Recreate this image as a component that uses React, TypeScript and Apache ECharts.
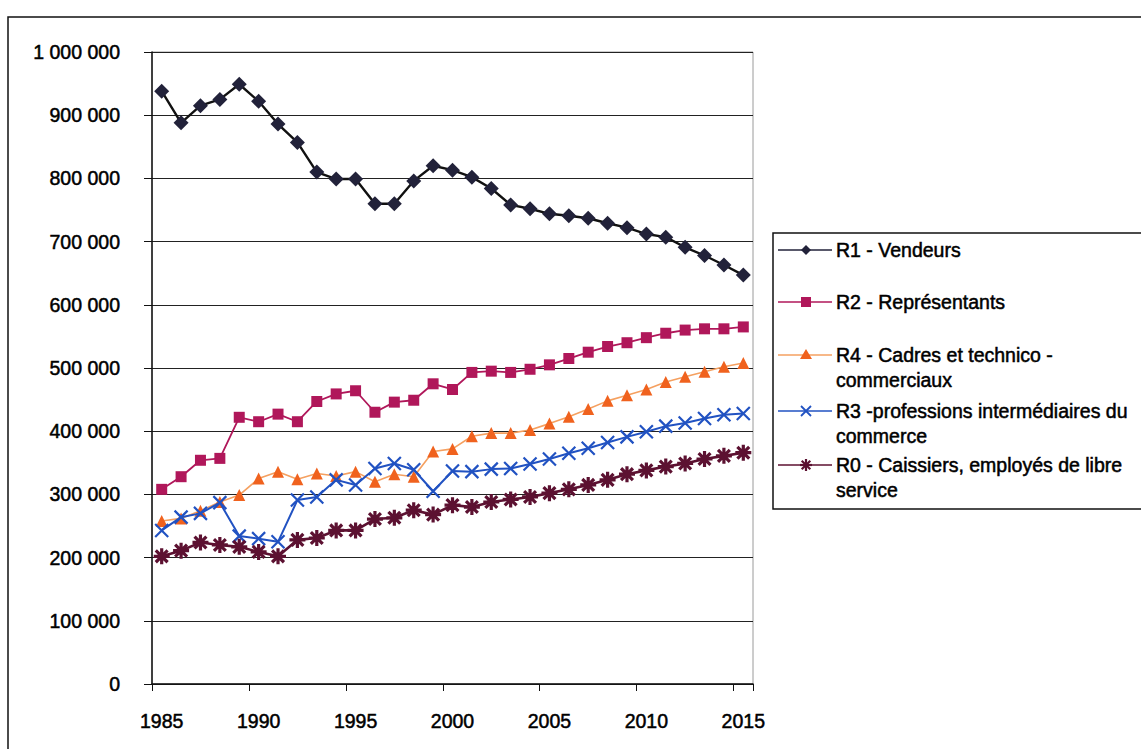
import React, { useEffect, useRef } from "react";
import * as echarts from "echarts";

const years = [
  "1985", "1986", "1987", "1988", "1989", "1990", "1991", "1992", "1993", "1994",
  "1995", "1996", "1997", "1998", "1999", "2000", "2001", "2002", "2003", "2004",
  "2005", "2006", "2007", "2008", "2009", "2010", "2011", "2012", "2013", "2014", "2015",
];

const r1Vendeurs = [
  938000, 888000, 915000, 925000, 949000, 922000, 886000, 857000, 810000, 799000,
  799000, 760000, 760000, 796000, 820000, 813000, 802000, 784000, 758000, 752000,
  744000, 741000, 737000, 729000, 722000, 712000, 707000, 691000, 678000, 663000, 647000,
];

const r2Representants = [
  308000, 328000, 354000, 357000, 422000, 415000, 427000, 415000, 447000, 459000,
  464000, 430000, 446000, 449000, 475000, 466000, 493000, 495000, 493000, 498000,
  505000, 515000, 525000, 534000, 540000, 548000, 555000, 560000, 562000, 562000, 565000,
];

const r4Cadres = [
  258000, 262000, 274000, 288000, 299000, 325000, 336000, 324000, 333000, 329000,
  336000, 320000, 332000, 328000, 368000, 372000, 392000, 397000, 397000, 402000,
  412000, 423000, 435000, 448000, 457000, 466000, 478000, 486000, 494000, 502000, 508000,
];

const r3Intermediaires = [
  243000, 264000, 270000, 287000, 234000, 230000, 225000, 291000, 296000, 323000,
  315000, 341000, 349000, 339000, 305000, 337000, 336000, 340000, 341000, 348000,
  356000, 365000, 373000, 382000, 391000, 399000, 408000, 413000, 420000, 426000, 428000,
];

const r0Caissiers = [
  202000, 211000, 224000, 220000, 217000, 209000, 202000, 228000, 231000, 243000,
  243000, 261000, 263000, 275000, 268000, 283000, 280000, 288000, 292000, 296000,
  302000, 308000, 315000, 323000, 332000, 338000, 344000, 349000, 356000, 361000, 366000,
];

const seriesNames = [
  "R1 - Vendeurs",
  "R2 - Représentants",
  "R4 - Cadres et technico -\ncommerciaux",
  "R3 -professions intermédiaires du\ncommerce",
  "R0 - Caissiers, employés de libre\nservice",
];

const FONT = "Liberation Sans";
const C_R1 = "#22223a";
const C_R2 = "#b0175a";
const C_R4 = "#f0621e";
const C_R4_LINE = "#f5a060";
const C_R3 = "#2152c2";
const C_R0 = "#5c1131";

const X_PATH = "path://M0,0L10,10M10,0L0,10";
const AST_PATH = "path://M5,0L5,10M0,5L10,5M1.3,1.3L8.7,8.7M8.7,1.3L1.3,8.7";

function fmt(v: number) {
  return String(v).replace(/\B(?=(\d{3})+(?!\d))/g, " ");
}

function legendGraphics() {
  const rows = [250, 302, 355, 411, 465];
  const lineColors = [C_R1, C_R2, C_R4_LINE, C_R3, C_R0];
  const els: any[] = [
    {
      type: "rect",
      shape: { x: 773, y: 233, width: 420, height: 276 },
      style: { fill: "#fff", stroke: "#111", lineWidth: 1.5 },
      z: 10,
    },
  ];
  rows.forEach((y, i) => {
    els.push({
      type: "line",
      shape: { x1: 778, y1: y, x2: 832, y2: y },
      style: { stroke: lineColors[i], lineWidth: 1.5 },
      z: 11,
    });
    const cx = 806;
    if (i === 0) {
      els.push({
        type: "polygon",
        shape: { points: [[cx, y - 5], [cx + 5, y], [cx, y + 5], [cx - 5, y]] },
        style: { fill: C_R1 },
        z: 12,
      });
    } else if (i === 1) {
      els.push({
        type: "rect",
        shape: { x: cx - 5, y: y - 5, width: 10, height: 10 },
        style: { fill: C_R2 },
        z: 12,
      });
    } else if (i === 2) {
      els.push({
        type: "polygon",
        shape: { points: [[cx, y - 6], [cx + 6, y + 4], [cx - 6, y + 4]] },
        style: { fill: C_R4 },
        z: 12,
      });
    } else if (i === 3) {
      els.push(
        { type: "line", shape: { x1: cx - 5, y1: y - 5, x2: cx + 5, y2: y + 5 }, style: { stroke: C_R3, lineWidth: 1.8 }, z: 12 },
        { type: "line", shape: { x1: cx + 5, y1: y - 5, x2: cx - 5, y2: y + 5 }, style: { stroke: C_R3, lineWidth: 1.8 }, z: 12 }
      );
    } else {
      const s = 6;
      const d = 4.3;
      els.push(
        { type: "line", shape: { x1: cx, y1: y - s, x2: cx, y2: y + s }, style: { stroke: C_R0, lineWidth: 2.2 }, z: 12 },
        { type: "line", shape: { x1: cx - s, y1: y, x2: cx + s, y2: y }, style: { stroke: C_R0, lineWidth: 2.2 }, z: 12 },
        { type: "line", shape: { x1: cx - d, y1: y - d, x2: cx + d, y2: y + d }, style: { stroke: C_R0, lineWidth: 2.2 }, z: 12 },
        { type: "line", shape: { x1: cx + d, y1: y - d, x2: cx - d, y2: y + d }, style: { stroke: C_R0, lineWidth: 2.2 }, z: 12 }
      );
    }
    els.push({
      type: "text",
      x: 836,
      y: y - 12,
      style: {
        text: seriesNames[i],
        font: `19.5px '${FONT}'`,
        fill: "#000",
        stroke: "#000",
        lineWidth: 0.5,
        verticalAlign: "top",
        lineHeight: 24.5,
      },
      z: 12,
    });
  });
  // outer frame
  els.push({
    type: "rect",
    shape: { x: 8, y: 17, width: 1200, height: 800 },
    style: { fill: "none", stroke: "#111", lineWidth: 1.5 },
    z: 20,
  });
  return els;
}

export default function App() {
  const ref = useRef<HTMLDivElement>(null);

  useEffect(() => {
    document.body.style.margin = "0";
    if (!ref.current) return;
    const chart = echarts.init(ref.current, undefined, { renderer: "svg" });

    const lineSeries = (name: string, data: number[], opts: any) => ({
      name,
      type: "line",
      data,
      showAllSymbol: true,
      ...opts,
    });

    chart.setOption({
      animation: false,
      backgroundColor: "#fff",
      grid: {
        left: 152,
        top: 52,
        right: 1141 - 753,
        bottom: 749 - 684,
        show: true,
        borderColor: "#9a9a9a",
        borderWidth: 1,
      },
      xAxis: {
        type: "category",
        data: years,
        boundaryGap: true,
        axisLine: { show: true, lineStyle: { color: "#111", width: 1.5 } },
        axisTick: { show: true, length: 7, inside: false, lineStyle: { color: "#111" } },
        axisLabel: {
          interval: 4,
          margin: 27,
          color: "#000",
          fontFamily: FONT,
          fontSize: 19.5,
          textBorderColor: "#000",
          textBorderWidth: 0.5,
        },
        splitLine: { show: false },
      },
      yAxis: {
        type: "value",
        min: 0,
        max: 1000000,
        interval: 100000,
        axisLine: { show: true, lineStyle: { color: "#111", width: 1.5 } },
        axisTick: { show: true, length: 8, lineStyle: { color: "#111" } },
        axisLabel: {
          margin: 32,
          color: "#000",
          fontFamily: FONT,
          fontSize: 19.5,
          textBorderColor: "#000",
          textBorderWidth: 0.5,
          formatter: (v: number) => fmt(v),
        },
        splitLine: { show: true, lineStyle: { color: "#222", width: 1.2 } },
      },
      series: [
        lineSeries(seriesNames[0], r1Vendeurs, {
          symbol: "diamond",
          symbolSize: 15,
          itemStyle: { color: C_R1 },
          lineStyle: { color: "#111", width: 2.4 },
          z: 6,
        }),
        lineSeries(seriesNames[1], r2Representants, {
          symbol: "rect",
          symbolSize: 11,
          itemStyle: { color: C_R2 },
          lineStyle: { color: C_R2, width: 1.8 },
          z: 5,
        }),
        lineSeries(seriesNames[2], r4Cadres, {
          symbol: "triangle",
          symbolSize: 12,
          itemStyle: { color: C_R4 },
          lineStyle: { color: C_R4_LINE, width: 1.6 },
          z: 3,
        }),
        lineSeries(seriesNames[3], r3Intermediaires, {
          symbol: X_PATH,
          symbolSize: 13,
          itemStyle: { color: C_R3, borderColor: C_R3, borderWidth: 2.2 },
          lineStyle: { color: C_R3, width: 2 },
          z: 4,
        }),
        lineSeries(seriesNames[4], r0Caissiers, {
          symbol: AST_PATH,
          symbolSize: 16,
          itemStyle: { color: C_R0, borderColor: C_R0, borderWidth: 3.2 },
          lineStyle: { color: C_R0, width: 2.6 },
          z: 4,
        }),
      ],
      graphic: legendGraphics(),
    });

    return () => chart.dispose();
  }, []);

  return <div ref={ref} style={{ width: 1141, height: 749 }} />;
}
